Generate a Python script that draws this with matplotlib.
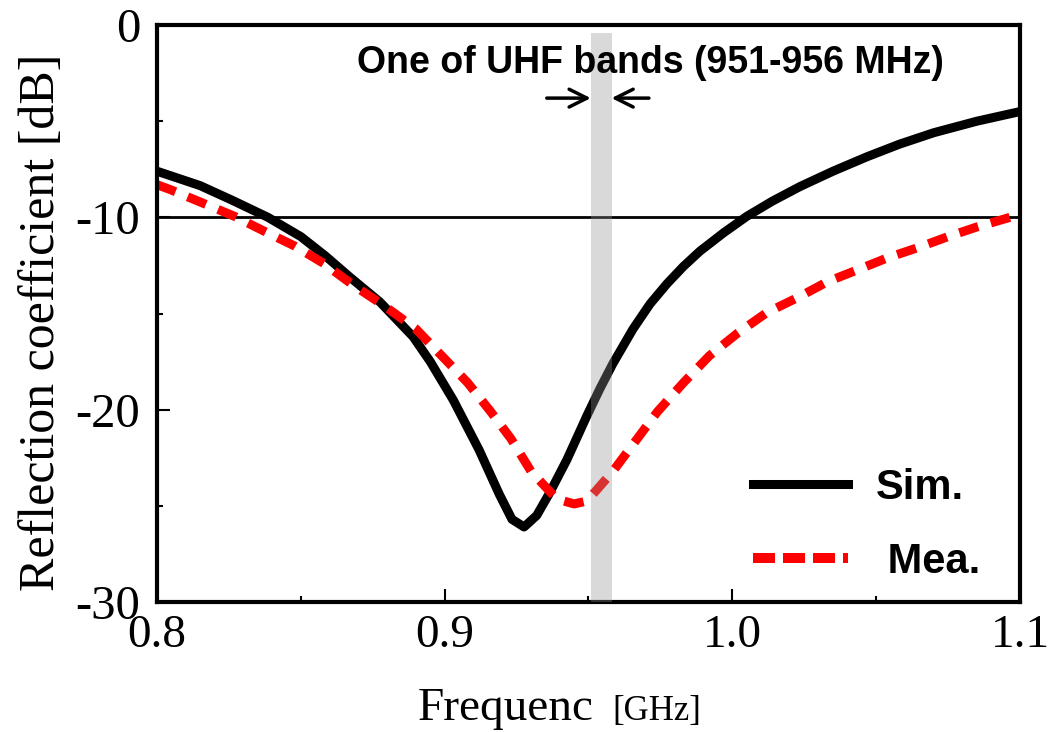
import numpy as np
import matplotlib
matplotlib.use("Agg")
import matplotlib.pyplot as plt
from matplotlib.lines import Line2D
from matplotlib.ticker import FixedLocator, FixedFormatter

# -----------------------------
# Data
# -----------------------------
sim_freq = [0.800, 0.808, 0.815, 0.826, 0.8386, 0.850, 0.8585, 0.867, 0.8775,
            0.889, 0.895, 0.903, 0.9075, 0.912, 0.919, 0.9234, 0.9276, 0.932,
            0.9366, 0.9425, 0.9495, 0.954, 0.9585, 0.9655, 0.9714, 0.9773,
            0.983, 0.9888, 0.997, 1.005, 1.014, 1.0235, 1.035, 1.0468, 1.058,
            1.070, 1.085, 1.100]
sim_db = [-7.6, -8.0, -8.35, -9.1, -10.0, -11.0, -12.0, -13.1, -14.4,
          -16.2, -17.5, -19.5, -20.8, -22.1, -24.4, -25.7, -26.1, -25.5,
          -24.3, -22.6, -20.3, -18.9, -17.6, -15.8, -14.5, -13.45,
          -12.55, -11.75, -10.8, -9.95, -9.15, -8.4, -7.6, -6.85, -6.2,
          -5.6, -5.0, -4.5]

mea_freq = [0.800, 0.8045, 0.815, 0.827, 0.837, 0.848, 0.858, 0.868, 0.879,
            0.890, 0.899, 0.908, 0.916, 0.923, 0.930, 0.939, 0.945, 0.9495,
            0.9585, 0.967, 0.974, 0.983, 0.992, 1.002, 1.012, 1.023, 1.033,
            1.044, 1.054, 1.065, 1.075, 1.085, 1.0965, 1.100]
mea_db = [-8.3, -8.55, -9.2, -9.95, -10.7, -11.5, -12.4, -13.5, -14.6,
          -15.8, -17.2, -18.6, -20.1, -21.5, -23.2, -24.65, -24.9, -24.75,
          -23.2, -21.5, -20.1, -18.6, -17.2, -16.0, -14.95, -14.15, -13.35,
          -12.7, -12.1, -11.55, -11.0, -10.5, -10.0, -9.9]

band = (0.9508, 0.9580)        # shaded UHF band [GHz]
band_top = -0.4                # shading stops just below the top
threshold = -10

xticks = [0.8, 0.9, 1.0, 1.1]
xtick_labels = ["0.8", "0.9", "1.0", "1.1"]
yticks = [-30, -20, -10, 0]
ytick_labels = ["-30", "-20", "-10", "0"]

serif = "Liberation Serif"
sans = "Liberation Sans"

# -----------------------------
# Figure
# -----------------------------
fig = plt.figure(figsize=(10.52, 7.32), dpi=100)
ax = fig.add_axes([0.1492, 0.1776, 0.8204, 0.7882])

ax.plot(sim_freq, sim_db, color="black", lw=6.5, solid_joinstyle="round", zorder=2)
ax.plot(mea_freq, mea_db, color="red", lw=6.5, linestyle=(0, (2.2, 1.45)),
        dash_capstyle="butt", zorder=2)
ax.axhline(threshold, color="black", lw=2.0, zorder=1)

ax.fill_between(band, [-30, -30], [band_top, band_top], color="#929292",
                alpha=0.35, lw=0, zorder=3)

ax.set_xlim(0.8, 1.1)
ax.set_ylim(-30, 0)

ax.xaxis.set_major_locator(FixedLocator(xticks))
ax.xaxis.set_major_formatter(FixedFormatter(xtick_labels))
ax.xaxis.set_minor_locator(FixedLocator([0.85, 0.95, 1.05]))
ax.yaxis.set_major_locator(FixedLocator(yticks))
ax.yaxis.set_major_formatter(FixedFormatter(ytick_labels))
ax.yaxis.set_minor_locator(FixedLocator([-25, -15, -5]))

ax.tick_params(which="both", direction="in", color="black", width=1.5)
ax.tick_params(which="major", length=9.5)
ax.tick_params(which="minor", length=4.5)
ax.tick_params(axis="x", which="major", pad=9, labelsize=34)
ax.tick_params(axis="y", which="major", pad=12, labelsize=35)
for lab in ax.get_xticklabels() + ax.get_yticklabels():
    lab.set_family(serif)

for sp in ax.spines.values():
    sp.set_linewidth(3)

# band annotation
ax.text(0.9714, -1.95, "One of UHF bands (951-956 MHz)", family=sans,
        weight="bold", fontsize=27, ha="center", va="center", zorder=5)
arrow_y = -3.8
ax.annotate("", xy=(band[0], arrow_y), xytext=(0.9355, arrow_y),
            arrowprops=dict(arrowstyle="->", lw=2.5, mutation_scale=32,
                            shrinkA=0, shrinkB=0), zorder=5)
ax.annotate("", xy=(band[1], arrow_y), xytext=(0.9710, arrow_y),
            arrowprops=dict(arrowstyle="->", lw=2.5, mutation_scale=32,
                            shrinkA=0, shrinkB=0), zorder=5)

# legend
handles = [Line2D([], [], color="black", lw=6.5),
           Line2D([], [], color="red", lw=7.2, linestyle=(0, (2.2, 0.8)))]
ax.legend(handles, ["Sim.", " Mea."], loc="center left",
          bbox_to_anchor=(0.666, 0.134), frameon=False, borderpad=0,
          handlelength=2.3, handletextpad=0.65, labelspacing=0.82,
          prop=dict(family=sans, weight="bold", size=30))

# axis labels
fig.text(42 / 1052, 1 - 322 / 732, "Reflection coefficient [dB]", family=serif,
         fontsize=36, rotation=90, ha="center", va="center")
fig.text(418 / 1052, 1 - 720 / 732, "Frequenc", family=serif, fontsize=34,
         ha="left", va="baseline")
fig.text(612 / 1052, 1 - 720 / 732, "[GHz]", family=serif, fontsize=25,
         ha="left", va="baseline")

fig.savefig("out.png", dpi=100)
